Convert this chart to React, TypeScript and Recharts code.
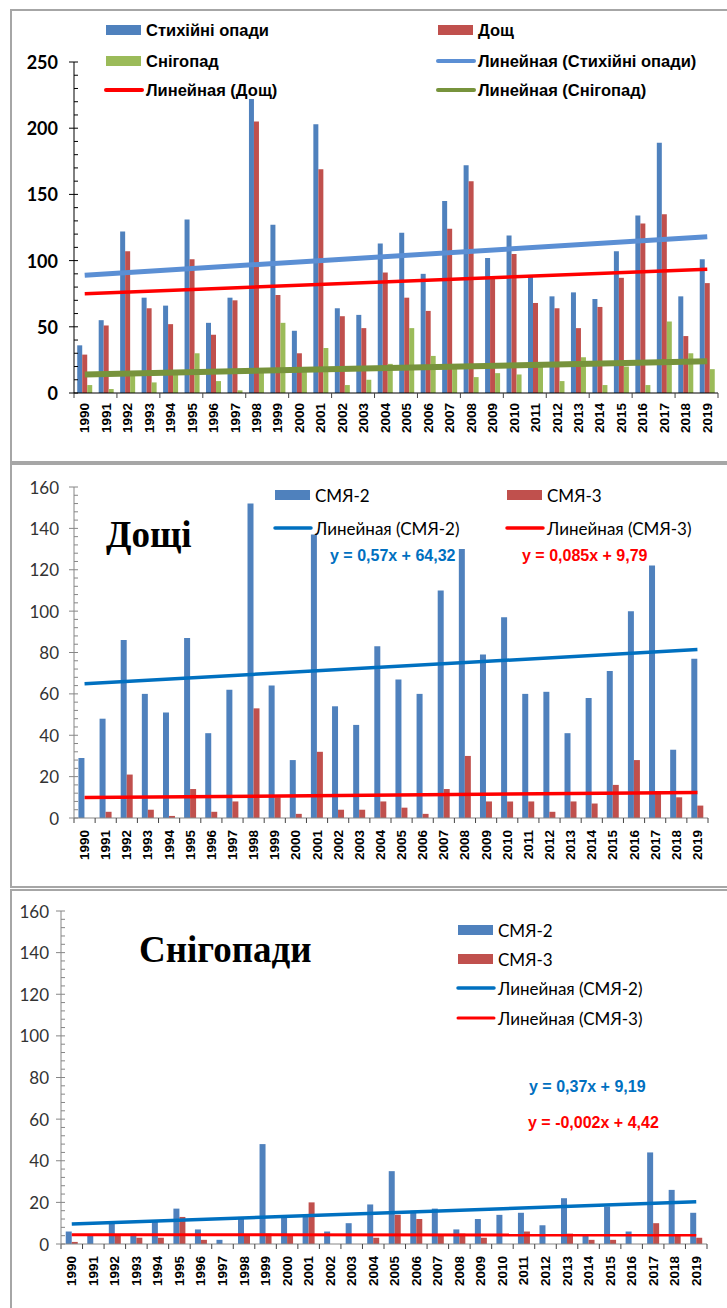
import { ComposedChart, Bar, Line, XAxis, YAxis } from "recharts";

const years = [
  "1990", "1991", "1992", "1993", "1994", "1995", "1996", "1997", "1998", "1999",
  "2000", "2001", "2002", "2003", "2004", "2005", "2006", "2007", "2008", "2009",
  "2010", "2011", "2012", "2013", "2014", "2015", "2016", "2017", "2018", "2019",
];

// panel 1: all hazardous precipitation
const totalFalls = [36, 55, 122, 72, 66, 131, 53, 72, 222, 127, 47, 203, 64, 59, 113, 121, 90, 145, 172, 102, 119, 88, 73, 76, 71, 107, 134, 189, 73, 101];
const rainFalls = [29, 51, 107, 64, 52, 101, 44, 70, 205, 74, 30, 169, 58, 49, 91, 72, 62, 124, 160, 87, 105, 68, 64, 49, 65, 87, 128, 135, 43, 83];
const snowFalls = [6, 3, 15, 8, 14, 30, 9, 2, 17, 53, 17, 34, 6, 10, 22, 49, 28, 21, 12, 15, 14, 20, 9, 27, 6, 20, 6, 54, 30, 18];
const totalTrend = [89, 118];
const rainTrend = [75, 93.5];
const snowTrend = [14, 24];

// panel 2: rain
const rainSmya2 = [29, 48, 86, 60, 51, 87, 41, 62, 152, 64, 28, 137, 54, 45, 83, 67, 60, 110, 130, 79, 97, 60, 61, 41, 58, 71, 100, 122, 33, 77];
const rainSmya3 = [0, 3, 21, 4, 1, 14, 3, 8, 53, 10, 2, 32, 4, 4, 8, 5, 2, 14, 30, 8, 8, 8, 3, 8, 7, 16, 28, 13, 10, 6];
const rainTrend2 = [64.9, 81.4];
const rainTrend3 = [9.9, 12.3];

// panel 3: snow
const snowSmya2 = [6, 4, 10, 5, 11, 17, 7, 2, 13, 48, 13, 14, 6, 10, 19, 35, 16, 17, 7, 12, 14, 15, 9, 22, 4, 18, 6, 44, 26, 15];
const snowSmya3 = [1, 0, 4, 3, 3, 13, 2, 0, 4, 5, 4, 20, 0, 0, 3, 14, 12, 4, 5, 3, 0, 6, 0, 5, 2, 2, 0, 10, 4, 3];
const snowTrend2 = [9.6, 20.3];
const snowTrend3 = [4.42, 4.36];

const BLUE = "#4F81BD";
const RED = "#C0504D";
const GREEN = "#9BBB59";
const TREND_BLUE = "#0070C0";
const TREND_RED = "#FF0000";

const last = years.length - 1;
const ends = (pair: number[], i: number) => (i === 0 ? pair[0] : i === last ? pair[1] : null);

const data1 = years.map((year, i) => ({
  year,
  total: totalFalls[i],
  rain: rainFalls[i],
  snow: snowFalls[i],
  tTotal: ends(totalTrend, i),
  tRain: ends(rainTrend, i),
  tSnow: ends(snowTrend, i),
}));

const data2 = years.map((year, i) => ({
  year,
  a: rainSmya2[i],
  b: rainSmya3[i],
  ta: ends(rainTrend2, i),
  tb: ends(rainTrend3, i),
}));

const data3 = years.map((year, i) => ({
  year,
  a: snowSmya2[i],
  b: snowSmya3[i],
  ta: ends(snowTrend2, i),
  tb: ends(snowTrend3, i),
}));

const range = (from: number, to: number, step: number) => {
  const out: number[] = [];
  for (let v = from; v <= to; v += step) out.push(v);
  return out;
};

const AXIS_FONT = "'Liberation Sans', Arial, sans-serif";

// x tick: rotated year label plus boundary tick marks
function makeXTick(axisY: number, band: number, every: number, labelGap: number) {
  return (props: any) => {
    const { x, payload, index } = props;
    const ly = axisY + labelGap;
    return (
      <g>
        {index % every === 0 && (
          <line x1={x - band / 2} x2={x - band / 2} y1={axisY} y2={axisY + 5} stroke="#444" />
        )}
        {index === last && (
          <line x1={x + band / 2} x2={x + band / 2} y1={axisY} y2={axisY + 5} stroke="#444" />
        )}
        <text
          x={x}
          y={ly}
          transform={`rotate(-90, ${x}, ${ly})`}
          textAnchor="end"
          dominantBaseline="central"
          fontFamily={AXIS_FONT}
          fontWeight="bold"
          fontSize={13.5}
          fill="#000"
        >
          {payload.value}
        </text>
      </g>
    );
  };
}

function makeYTick(axisX: number, major: number, labelGap: number, bold: boolean, color: string) {
  return (props: any) => {
    const { y, payload } = props;
    const v = payload.value;
    const isMajor = v % major === 0;
    return (
      <g>
        <line x1={isMajor ? axisX - 5 : axisX} x2={axisX + 4} y1={y} y2={y} stroke={color} />
        {isMajor && (
          <text
            x={axisX - labelGap}
            y={y}
            textAnchor="end"
            dominantBaseline="central"
            fontFamily="Lato, sans-serif"
            fontWeight={bold ? "bold" : "normal"}
            fontSize={bold ? 18 : 17}
            fill={bold ? "#000" : "#333"}
          >
            {v}
          </text>
        )}
      </g>
    );
  };
}

function Swatch({ x, y, color, kind, thick }: { x: number; y: number; color: string; kind: "bar" | "line"; thick?: number }) {
  if (kind === "bar") return <rect x={x} y={y - 5} width={35} height={10} fill={color} />;
  return <line x1={x} x2={x + 36} y1={y} y2={y} stroke={color} strokeWidth={thick ?? 4} strokeLinecap="round" />;
}

function LegendItem({ x, y, color, kind, label, bold, thick }: any) {
  return (
    <g>
      <Swatch x={x} y={y} color={color} kind={kind} thick={thick} />
      <text
        x={x + 40}
        y={y}
        dominantBaseline="central"
        fontFamily={bold ? AXIS_FONT : "Lato, sans-serif"}
        fontWeight={bold ? "bold" : "normal"}
        fontSize={bold ? 16.5 : 17}
        fill="#000"
      >
        {label}
      </text>
    </g>
  );
}

export default function App() {
  return (
    <div style={{ position: "absolute", left: 0, top: 0, width: 727, height: 1308, background: "#fff", overflow: "hidden" }}>
      {/* Panel 1 */}
      <div style={{ position: "absolute", left: 0, top: 0 }}>
        <ComposedChart width={727} height={470} data={data1} margin={{ top: 62, right: 9, left: 0, bottom: 0 }} barCategoryGap="15%" barGap={0}>
          <XAxis dataKey="year" interval={0} height={77} tickLine={false} axisLine={{ stroke: "#000" }} tick={makeXTick(393, 644 / 30, 2, 10)} />
          <YAxis width={74} domain={[0, 250]} ticks={range(0, 250, 10)} interval={0} tickLine={false} axisLine={{ stroke: "#000" }} tick={makeYTick(74, 50, 16, true, "#000")} />
          <Bar dataKey="total" fill={BLUE} isAnimationActive={false} />
          <Bar dataKey="rain" fill={RED} isAnimationActive={false} />
          <Bar dataKey="snow" fill={GREEN} isAnimationActive={false} />
          <Line dataKey="tTotal" stroke="#5B8FD4" strokeWidth={5} dot={false} connectNulls isAnimationActive={false} />
          <Line dataKey="tRain" stroke={TREND_RED} strokeWidth={3.5} dot={false} connectNulls isAnimationActive={false} />
          <Line dataKey="tSnow" stroke="#77933C" strokeWidth={6} dot={false} connectNulls isAnimationActive={false} />
        </ComposedChart>
      </div>

      {/* Panel 2 */}
      <div style={{ position: "absolute", left: 0, top: 463 }}>
        <ComposedChart width={727} height={425} data={data2} margin={{ top: 24, right: 19, left: 0, bottom: 0 }} barCategoryGap="21%" barGap={0}>
          <XAxis dataKey="year" interval={0} height={70} tickLine={false} axisLine={{ stroke: "#868686" }} tick={makeXTick(355, 634 / 30, 1, 12)} />
          <YAxis width={74} domain={[0, 160]} ticks={range(0, 160, 4)} interval={0} tickLine={false} axisLine={{ stroke: "#868686" }} tick={makeYTick(74, 20, 15, false, "#868686")} />
          <Bar dataKey="a" fill={BLUE} isAnimationActive={false} />
          <Bar dataKey="b" fill={RED} isAnimationActive={false} />
          <Line dataKey="ta" stroke={TREND_BLUE} strokeWidth={3.5} dot={false} connectNulls isAnimationActive={false} />
          <Line dataKey="tb" stroke={TREND_RED} strokeWidth={3.5} dot={false} connectNulls isAnimationActive={false} />
        </ComposedChart>
      </div>

      {/* Panel 3 */}
      <div style={{ position: "absolute", left: 0, top: 889 }}>
        <ComposedChart width={727} height={419} data={data3} margin={{ top: 22, right: 20, left: 0, bottom: 0 }} barCategoryGap="22%" barGap={0}>
          <XAxis dataKey="year" interval={0} height={64} tickLine={false} axisLine={{ stroke: "#868686" }} tick={makeXTick(355, 646 / 30, 1, 12)} />
          <YAxis width={61} domain={[0, 160]} ticks={range(0, 160, 4)} interval={0} tickLine={false} axisLine={{ stroke: "#868686" }} tick={makeYTick(61, 20, 12, false, "#868686")} />
          <Bar dataKey="a" fill={BLUE} isAnimationActive={false} />
          <Bar dataKey="b" fill={RED} isAnimationActive={false} />
          <Line dataKey="ta" stroke={TREND_BLUE} strokeWidth={3.5} dot={false} connectNulls isAnimationActive={false} />
          <Line dataKey="tb" stroke={TREND_RED} strokeWidth={3} dot={false} connectNulls isAnimationActive={false} />
        </ComposedChart>
      </div>

      {/* borders, legends, titles */}
      <svg width={727} height={1308} style={{ position: "absolute", left: 0, top: 0, pointerEvents: "none" }}>
        <rect x={11} y={10} width={730} height={452} fill="none" stroke="#a6a6a6" strokeWidth={2} />
        <rect x={11} y={464} width={730} height={423} fill="none" stroke="#a6a6a6" strokeWidth={2} />
        <rect x={11} y={890} width={730} height={430} fill="none" stroke="#a6a6a6" strokeWidth={2} />

        <LegendItem x={106} y={30} color={BLUE} kind="bar" label="Стихійні опади" bold />
        <LegendItem x={438} y={30} color={RED} kind="bar" label="Дощ" bold />
        <LegendItem x={106} y={61} color={GREEN} kind="bar" label="Снігопад" bold />
        <LegendItem x={438} y={61} color="#5B8FD4" kind="line" label="Линейная (Стихійні опади)" bold thick={4} />
        <LegendItem x={106} y={90} color={TREND_RED} kind="line" label="Линейная (Дощ)" bold thick={4} />
        <LegendItem x={438} y={90} color="#77933C" kind="line" label="Линейная (Снігопад)" bold thick={4} />

        <LegendItem x={275} y={495} color={BLUE} kind="bar" label="СМЯ-2" />
        <LegendItem x={507} y={495} color={RED} kind="bar" label="СМЯ-3" />
        <LegendItem x={275} y={528} color={TREND_BLUE} kind="line" label="Линейная (СМЯ-2)" thick={3.5} />
        <LegendItem x={507} y={528} color={TREND_RED} kind="line" label="Линейная (СМЯ-3)" thick={3.5} />
        <text x={106} y={547} fontFamily="'Liberation Serif', 'Times New Roman', serif" fontWeight="bold" fontSize={37} fill="#000">Дощі</text>
        <text x={330} y={555} dominantBaseline="central" fontFamily={AXIS_FONT} fontWeight="bold" fontSize={16} fill={TREND_BLUE}>y = 0,57x + 64,32</text>
        <text x={522} y={555} dominantBaseline="central" fontFamily={AXIS_FONT} fontWeight="bold" fontSize={16} fill={TREND_RED}>y = 0,085x + 9,79</text>

        <LegendItem x={458} y={930} color={BLUE} kind="bar" label="СМЯ-2" />
        <LegendItem x={458} y={959} color={RED} kind="bar" label="СМЯ-3" />
        <LegendItem x={458} y={988} color={TREND_BLUE} kind="line" label="Линейная (СМЯ-2)" thick={3.5} />
        <LegendItem x={458} y={1018} color={TREND_RED} kind="line" label="Линейная (СМЯ-3)" thick={3} />
        <text x={139} y={962} fontFamily="'Liberation Serif', 'Times New Roman', serif" fontWeight="bold" fontSize={37} fill="#000">Снігопади</text>
        <text x={529} y={1086} dominantBaseline="central" fontFamily={AXIS_FONT} fontWeight="bold" fontSize={16} fill={TREND_BLUE}>y = 0,37x + 9,19</text>
        <text x={528} y={1122} dominantBaseline="central" fontFamily={AXIS_FONT} fontWeight="bold" fontSize={16} fill={TREND_RED}>y = -0,002x + 4,42</text>
      </svg>
    </div>
  );
}
